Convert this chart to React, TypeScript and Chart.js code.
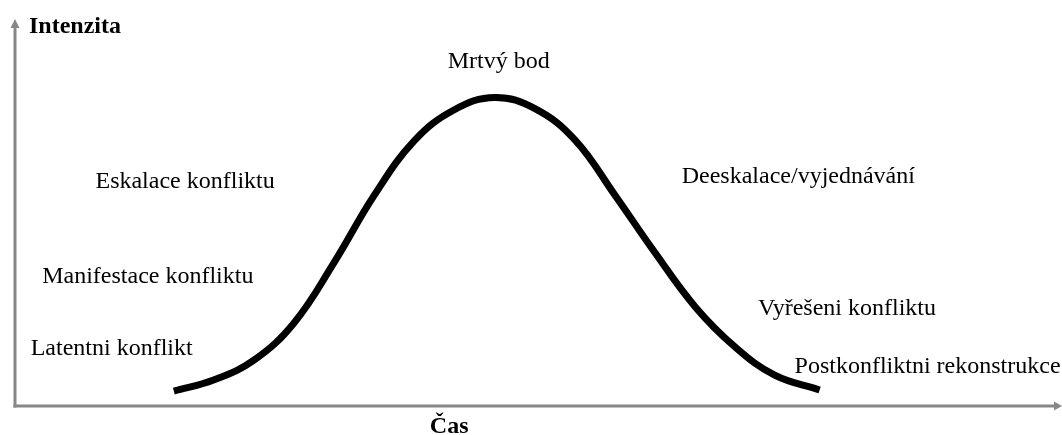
import React, { useEffect, useRef } from "react";
import { Chart, registerables } from "chart.js";

Chart.register(...registerables);

// Curve: time (0-100) vs. intensity (0-100)
const timeValues = [15.2, 19.0, 22.9, 26.7, 30.5, 34.4, 38.2, 42.0, 45.9, 49.8, 53.6, 57.4, 61.2, 65.1, 68.9, 72.7, 77.0];
const intensityValues = [3.9, 6.8, 12.1, 21.8, 37.5, 55.4, 69.6, 77.7, 81.0, 78.0, 69.8, 55.4, 40.4, 26.0, 15.5, 8.1, 4.2];

// Phase labels
const phaseLabels = [
  "Latentni konflikt",
  "Manifestace konfliktu",
  "Eskalace konfliktu",
  "Mrtvý bod",
  "Deeskalace/vyjednávání",
  "Vyřešeni konfliktu",
  "Postkonfliktni rekonstrukce",
];
// anchor (left, baseline) of each phase label in data units
const phaseLabelX = [1.5, 2.6, 7.7, 41.4, 63.8, 71.1, 74.6];
const phaseLabelY = [13.4, 32.3, 57.2, 88.7, 58.5, 23.9, 8.7];

const yAxisTitle = "Intenzita";
const xAxisTitle = "Čas";

const FONT = '"Liberation Serif", "Times New Roman", serif';

const decorPlugin = {
  id: "decor",
  beforeDatasetsDraw(chart: any) {
    const { ctx, chartArea } = chart;
    const { left, right, top, bottom } = chartArea;
    ctx.save();
    ctx.strokeStyle = "#878787";
    ctx.fillStyle = "#878787";
    ctx.lineWidth = 3;
    // y axis
    ctx.beginPath();
    ctx.moveTo(left, bottom + 1.5);
    ctx.lineTo(left, top - 2);
    ctx.stroke();
    ctx.beginPath();
    ctx.moveTo(left, top - 6);
    ctx.lineTo(left - 4.5, top + 3);
    ctx.lineTo(left + 4.5, top + 3);
    ctx.closePath();
    ctx.fill();
    // x axis
    ctx.beginPath();
    ctx.moveTo(left - 1.5, bottom);
    ctx.lineTo(right - 2, bottom);
    ctx.stroke();
    ctx.beginPath();
    ctx.moveTo(right + 2, bottom);
    ctx.lineTo(right - 6, bottom - 4.5);
    ctx.lineTo(right - 6, bottom + 4.5);
    ctx.closePath();
    ctx.fill();
    ctx.restore();
  },
  afterDatasetsDraw(chart: any) {
    const { ctx, chartArea, scales } = chart;
    const { left, bottom, top } = chartArea;
    ctx.save();
    ctx.fillStyle = "#000";
    ctx.textBaseline = "alphabetic";
    ctx.textAlign = "left";
    ctx.font = `24px ${FONT}`;
    phaseLabels.forEach((t, i) => {
      ctx.fillText(t, scales.x.getPixelForValue(phaseLabelX[i]), scales.y.getPixelForValue(phaseLabelY[i]));
    });
    ctx.font = `bold 24px ${FONT}`;
    ctx.fillText(yAxisTitle, left + 14, top + 8);
    ctx.fillText(xAxisTitle, scales.x.getPixelForValue(39.7), bottom + 27);
    ctx.restore();
  },
};

export default function App() {
  const ref = useRef<HTMLCanvasElement | null>(null);
  useEffect(() => {
    document.body.style.margin = "0";
    if (!ref.current) return;
    const chart = new Chart(ref.current, {
      type: "line",
      data: {
        datasets: [
          {
            data: timeValues.map((x, i) => ({ x, y: intensityValues[i] })),
            borderColor: "#000",
            borderWidth: 7,
            borderCapStyle: "butt",
            borderJoinStyle: "round",
            pointRadius: 0,
            tension: 0.4,
            fill: false,
          },
        ],
      },
      options: {
        responsive: false,
        animation: false,
        layout: { padding: { left: 15, right: 2, top: 25, bottom: 29 } },
        plugins: { legend: { display: false }, tooltip: { enabled: false } },
        scales: {
          x: { type: "linear", min: 0, max: 100, display: false },
          y: { type: "linear", min: 0, max: 100, display: false },
        },
      },
      plugins: [decorPlugin],
    } as any);
    return () => chart.destroy();
  }, []);
  return (
    <div style={{ width: 1062, height: 435, background: "#fff" }}>
      <canvas ref={ref} width={1062} height={435} style={{ display: "block" }} />
    </div>
  );
}
